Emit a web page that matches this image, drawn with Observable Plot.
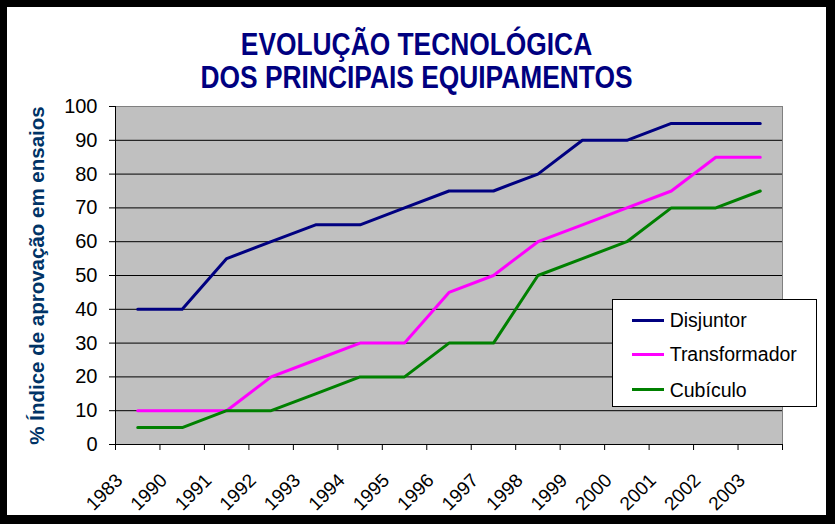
<!DOCTYPE html>
<html><head><meta charset="utf-8">
<script src="https://cdn.jsdelivr.net/npm/d3@7"></script>
<script src="https://cdn.jsdelivr.net/npm/@observablehq/plot@0.6"></script>
<style>
html,body{margin:0;padding:0;background:#000;width:835px;height:524px;overflow:hidden;}
#panel{position:absolute;left:7px;top:7px;width:819px;height:508px;background:#fff;font-family:"Liberation Sans",Arial,sans-serif;}
#title{padding-top:21px;height:66px;text-align:center;font-size:31px;line-height:33px;font-weight:bold;color:#000080;}
#title div{transform:scaleX(0.85);white-space:nowrap;}
#chart svg{display:block;}
#legend{position:absolute;left:604.7px;top:292.3px;width:203px;height:106px;border:1px solid #000;background:#fff;}
.item{position:absolute;left:0;height:0;}
.item .sw{position:absolute;left:19px;width:32px;height:3px;top:-1.5px;}
.item .lb{position:absolute;left:57px;top:-12px;font-size:19.5px;line-height:24px;white-space:nowrap;color:#000;}
</style></head>
<body>
<div id="panel">
  <div id="title"><div>EVOLUÇÃO TECNOLÓGICA</div><div>DOS PRINCIPAIS EQUIPAMENTOS</div></div>
  <div id="chart"></div>
  <div id="legend"></div>
</div>
<script>
const years = ["1983","1990","1991","1992","1993","1994","1995","1996","1997","1998","1999","2000","2001","2002","2003"];
const disjuntor = [40,40,55,60,65,65,70,75,75,80,90,90,95,95,95];
const transformador = [10,10,10,20,25,30,30,45,50,60,65,70,75,85,85];
const cubiculo = [5,5,10,10,15,20,20,30,30,50,55,60,70,70,75];
const seriesNames = ["Disjuntor","Transformador","Cubículo"];
const seriesColors = ["#000080","#ff00ff","#008000"];
const yTicks = [0,10,20,30,40,50,60,70,80,90,100];
const yLabel = "% Índice de aprovação em ensaios";

const seriesValues = [disjuntor, transformador, cubiculo];
const data = seriesNames.flatMap((s,k)=>seriesValues[k].map((v,i)=>({series:s, i, value:v})));
const idx = years.map((_,i)=>i);
const bounds = d3.range(years.length+1).map(i=>i-0.5);

const chart = Plot.plot({
  width:819, height:421,
  marginLeft:108, marginRight:44, marginTop:12, marginBottom:71,
  style:{fontFamily:'"Liberation Sans",Arial,sans-serif', background:"transparent", overflow:"visible", color:"#000"},
  x:{domain:[-0.5, years.length-0.5]},
  y:{domain:[0,100]},
  color:{domain:seriesNames, range:seriesColors},
  marks:[
    Plot.frame({fill:"#c0c0c0", stroke:"#808080"}),
    Plot.ruleY(yTicks.filter(v=>v>0 && v<100), {stroke:"#000", strokeWidth:1}),
    Plot.line(data, {x:"i", y:"value", z:"series", stroke:"series", strokeWidth:3}),
    Plot.ruleY([0], {stroke:"#000"}),
    Plot.ruleX([-0.5], {stroke:"#000"}),
    Plot.axisY({ticks:yTicks, tickSize:6, tickPadding:12, fontSize:20, label:null}),
    Plot.axisX({ticks:bounds, tickSize:6, tickFormat:()=>"", label:null}),
    Plot.text(idx, {x:d=>d, text:d=>years[d], frameAnchor:"bottom", dx:-14, dy:37, rotate:-45, textAnchor:"end", lineAnchor:"bottom", fontSize:19, fill:"#000"}),
    Plot.text([yLabel], {text:d=>d, frameAnchor:"left", dx:-78, rotate:-90, textAnchor:"middle", lineAnchor:"middle", fontSize:20.5, fontWeight:"bold", fill:"#003366"})
  ]
});
document.getElementById("chart").appendChild(chart);

const legend = document.getElementById("legend");
const rowY = [20, 54, 89.5];
seriesNames.forEach((name,k)=>{
  const it = document.createElement("div");
  it.className = "item";
  it.style.top = rowY[k] + "px";
  it.innerHTML = `<div class="sw" style="background:${seriesColors[k]}"></div><div class="lb">${name}</div>`;
  legend.appendChild(it);
});
</script>
</body></html>
